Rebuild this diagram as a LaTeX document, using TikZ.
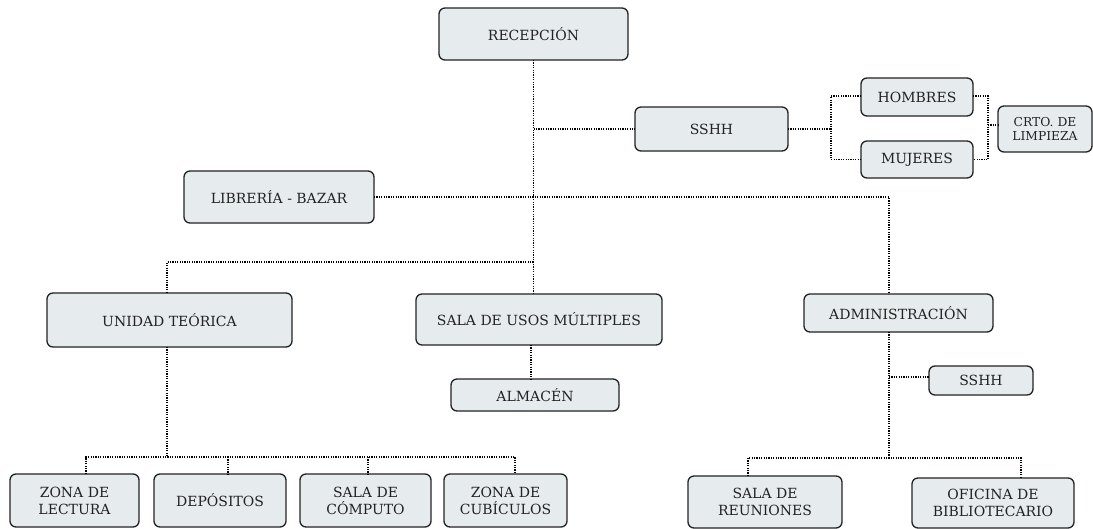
\documentclass[tikz,border=0pt]{standalone}
\usepackage{fontspec}
\setmainfont{DejaVu Serif}
\definecolor{boxfill}{HTML}{E6ECEE}
\definecolor{boxline}{HTML}{222222}
\definecolor{txt}{HTML}{222222}
\begin{document}
\begin{tikzpicture}[x=1pt,y=-1pt,
  box/.style={draw=boxline, line width=1.3pt, fill=boxfill, rounded corners=6pt,
    inner sep=0pt, outer sep=0pt, align=center, text=txt,
    font=\fontsize{14}{17}\selectfont},
  smallbox/.style={box, font=\fontsize{12.3}{14}\selectfont},
  link/.style={line width=1.3pt, dash pattern=on 1.2pt off 1.2pt, black}]
\useasboundingbox (0,0) rectangle (1093,528);

% boxes: at center, minimum width/height
\node[box, minimum width=189, minimum height=52] (rec) at (533.5,34) {RECEPCIÓN};
\node[box, minimum width=153, minimum height=44] (sshhA) at (711.5,129) {SSHH};
\node[box, minimum width=112, minimum height=38] (homb) at (917,97) {HOMBRES};
\node[box, minimum width=112, minimum height=37] (muj) at (917,159.5) {MUJERES};
\node[smallbox, minimum width=94, minimum height=46] (crto) at (1045,129) {CRTO. DE\\LIMPIEZA};
\node[box, minimum width=190, minimum height=52] (lib) at (279,197) {LIBRERÍA - BAZAR};
\node[box, minimum width=245, minimum height=54] (unid) at (169.5,320) {UNIDAD TEÓRICA};
\node[box, minimum width=246, minimum height=51] (sum) at (539,319.5) {SALA DE USOS MÚLTIPLES};
\node[box, minimum width=168, minimum height=32] (alm) at (535,395) {ALMACÉN};
\node[box, minimum width=189, minimum height=38] (adm) at (898.5,313) {ADMINISTRACIÓN};
\node[box, minimum width=104, minimum height=29] (sshhB) at (981,380.5) {SSHH};
\node[box, minimum width=154, minimum height=52] (reu) at (765,502) {SALA DE\\REUNIONES};
\node[box, minimum width=162, minimum height=50] (ofi) at (993,503) {OFICINA DE\\BIBLIOTECARIO};
\node[box, minimum width=129, minimum height=53] (zl) at (74.5,500.5) {ZONA DE\\LECTURA};
\node[box, minimum width=132, minimum height=53] (dep) at (220,500.5) {DEPÓSITOS};
\node[box, minimum width=131, minimum height=53] (comp) at (365.5,500.5) {SALA DE\\CÓMPUTO};
\node[box, minimum width=123, minimum height=53] (cub) at (505.5,500.5) {ZONA DE\\CUBÍCULOS};

% junction coordinates
\coordinate (sshhJ) at (831,0);
\coordinate (crtoJ) at (988,125);
\coordinate (admx) at (889,0);
\coordinate (unidx) at (167,0);
\coordinate (unidbar) at (167,457);
\coordinate (admbar) at (889,458);

% main spine
\draw[link] (rec.south) -- (rec.south |- sum.north);
\draw[link] (rec.south |- sshhA.west) -- (sshhA.west);
\draw[link] (lib.east) -| (admx |- adm.north);
\draw[link] (rec.south |- 0,262) -| (unidx |- unid.north);
\draw[link] (531,0 |- sum.south) -- (531,0 |- alm.north);

% SSHH branch
\draw[link] (sshhA.east) -- (sshhJ |- sshhA.east);
\draw[link] (homb.west |- 0,96) -| (sshhJ |- muj.west) -- (muj.west);
\draw[link] (homb.east |- 0,96) -| (crtoJ |- muj.east) -- (muj.east);
\draw[link] (crtoJ) -- (crtoJ -| crto.west);

% Unidad teorica branch
\draw[link] (unidx |- unid.south) -- (unidbar);
\draw[link] (86,0 |- zl.north) |- (515,0 |- unidbar) -- (515,0 |- cub.north);
\draw[link] (228,0 |- unidbar) -- (228,0 |- dep.north);
\draw[link] (368,0 |- unidbar) -- (368,0 |- comp.north);

% Administracion branch
\draw[link] (admx |- adm.south) -- (admbar);
\draw[link] (admx |- 0,377) -- (sshhB.west |- 0,377);
\draw[link] (748,0 |- reu.north) |- (1021,0 |- admbar) -- (1021,0 |- ofi.north);
\end{tikzpicture}
\end{document}
